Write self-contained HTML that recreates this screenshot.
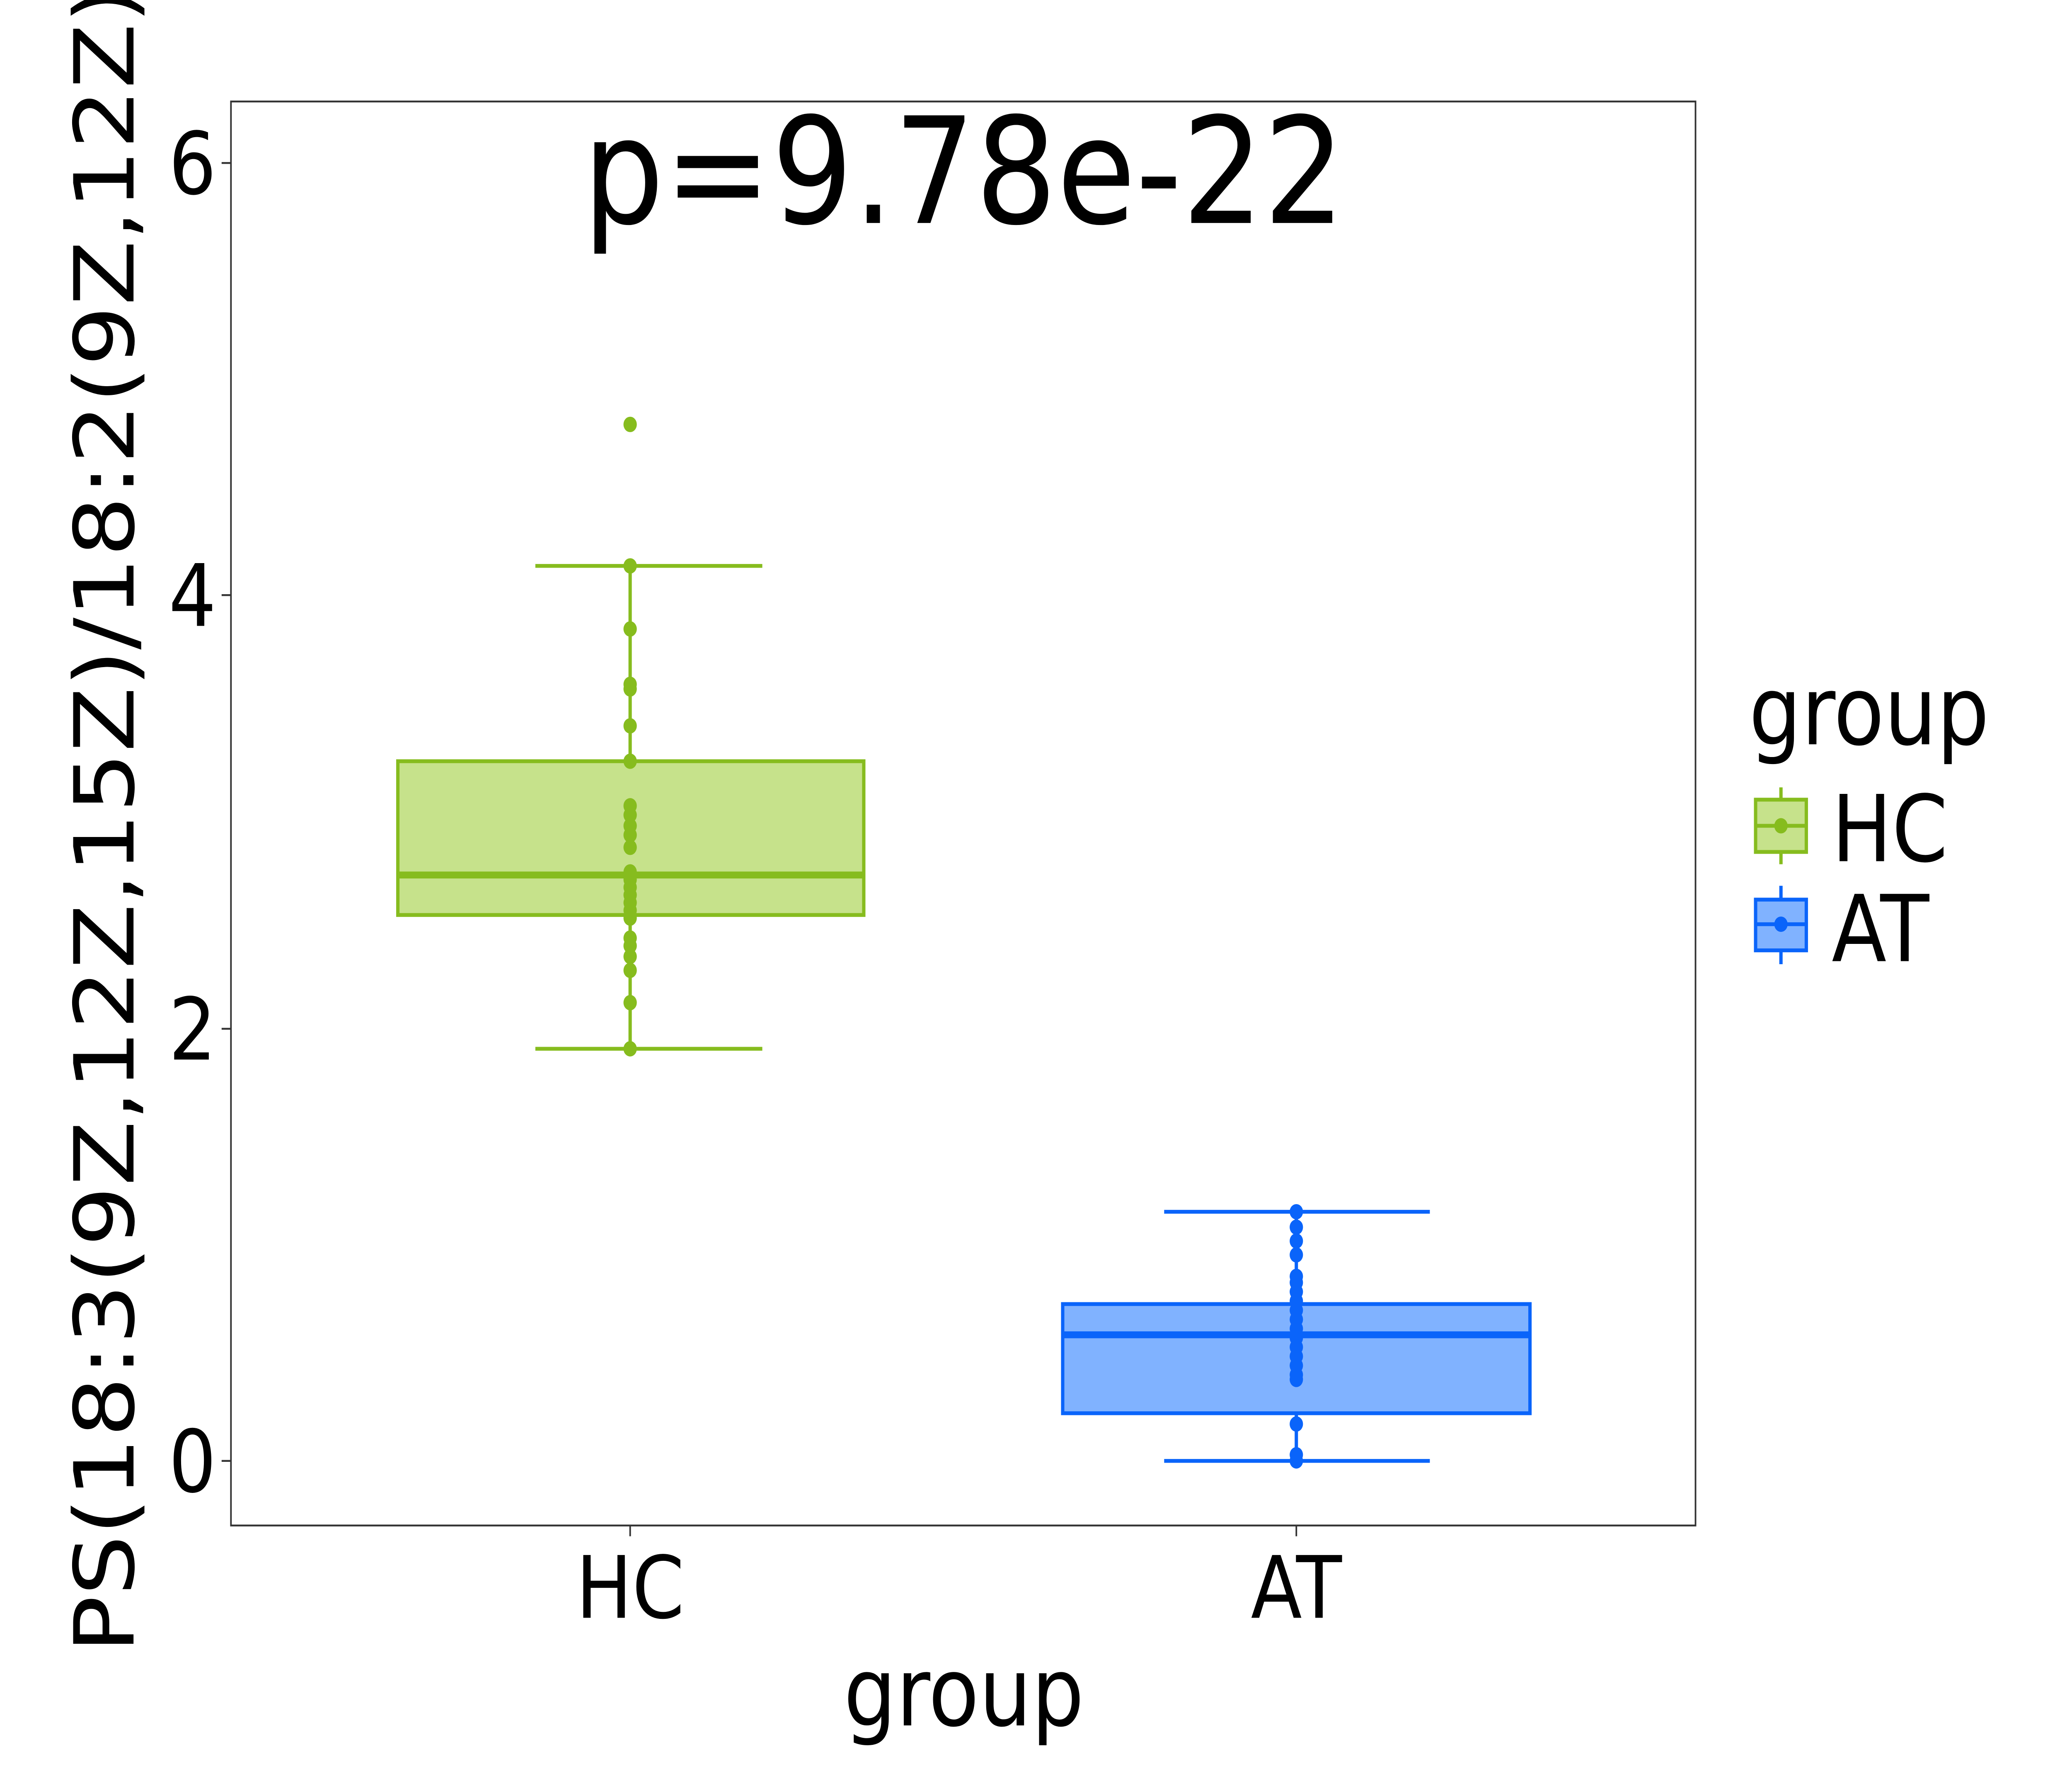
<!DOCTYPE html>
<html><head><meta charset="utf-8"><style>
html,body{margin:0;padding:0;background:#fff;overflow:hidden;width:100%;height:100%;}
svg{display:block;width:100vw;height:100vh;}
text{font-family:"DejaVu Sans","Liberation Sans",sans-serif;fill:#000;}
</style></head><body>
<svg viewBox="0 0 1552 1164" preserveAspectRatio="none" xmlns="http://www.w3.org/2000/svg">
<rect width="1552" height="1164" fill="#fff"/>
<g stroke="#86BC1E" stroke-width="2.5" fill="none">
<line x1="401" y1="368" x2="571" y2="368"/>
<line x1="401" y1="682" x2="571" y2="682"/>
<line x1="472" y1="368" x2="472" y2="682"/>
<rect x="298" y="495" width="349" height="100" fill="#C6E28B"/>
<line x1="298" y1="569" x2="647" y2="569" stroke-width="4.5"/>
</g>
<g fill="#86BC1E">
<circle cx="472" cy="276" r="5"/><circle cx="472" cy="368" r="5"/><circle cx="472" cy="409" r="5"/><circle cx="472" cy="445" r="5"/><circle cx="472" cy="448" r="5"/><circle cx="472" cy="472" r="5"/><circle cx="472" cy="495" r="5"/><circle cx="472" cy="524" r="5"/><circle cx="472" cy="530" r="5"/><circle cx="472" cy="537" r="5"/><circle cx="472" cy="543" r="5"/><circle cx="472" cy="551" r="5"/><circle cx="472" cy="567" r="5"/><circle cx="472" cy="572" r="5"/><circle cx="472" cy="577" r="5"/><circle cx="472" cy="582" r="5"/><circle cx="472" cy="587" r="5"/><circle cx="472" cy="592" r="5"/><circle cx="472" cy="597" r="5"/><circle cx="472" cy="610" r="5"/><circle cx="472" cy="615" r="5"/><circle cx="472" cy="622" r="5"/><circle cx="472" cy="631" r="5"/><circle cx="472" cy="652" r="5"/><circle cx="472" cy="682" r="5"/>
</g>
<g stroke="#0A64FA" stroke-width="2.5" fill="none">
<line x1="872" y1="788" x2="1071" y2="788"/>
<line x1="872" y1="950" x2="1071" y2="950"/>
<line x1="971" y1="788" x2="971" y2="950"/>
<rect x="796" y="848" width="350" height="71" fill="#80B2FF"/>
<line x1="796" y1="868" x2="1146" y2="868" stroke-width="4.5"/>
</g>
<g fill="#0A64FA">
<circle cx="971" cy="788" r="5"/><circle cx="971" cy="798" r="5"/><circle cx="971" cy="807" r="5"/><circle cx="971" cy="816" r="5"/><circle cx="971" cy="830" r="5"/><circle cx="971" cy="834" r="5"/><circle cx="971" cy="840" r="5"/><circle cx="971" cy="846" r="5"/><circle cx="971" cy="852" r="5"/><circle cx="971" cy="858" r="5"/><circle cx="971" cy="864" r="5"/><circle cx="971" cy="870" r="5"/><circle cx="971" cy="876" r="5"/><circle cx="971" cy="882" r="5"/><circle cx="971" cy="888" r="5"/><circle cx="971" cy="894" r="5"/><circle cx="971" cy="897" r="5"/><circle cx="971" cy="926" r="5"/><circle cx="971" cy="946" r="5"/><circle cx="971" cy="950" r="5"/>
</g>
<rect x="173" y="66" width="1097" height="926" fill="none" stroke="#333" stroke-width="1.2"/>
<g stroke="#333" stroke-width="1.2">
<line x1="166" y1="950" x2="173" y2="950"/><line x1="166" y1="669" x2="173" y2="669"/>
<line x1="166" y1="387" x2="173" y2="387"/><line x1="166" y1="106" x2="173" y2="106"/>
<line x1="472" y1="992" x2="472" y2="999"/><line x1="971" y1="992" x2="971" y2="999"/>
</g>
<g font-size="56" text-anchor="end">
<text x="162" y="970">0</text><text x="162" y="689">2</text>
<text x="162" y="407">4</text><text x="162" y="126">6</text>
</g>
<g font-size="56" text-anchor="middle">
<text x="472" y="1052">HC</text><text x="971" y="1052">AT</text>
</g>
<text x="722" y="1122" font-size="62" text-anchor="middle">group</text>
<text x="722" y="145" font-size="96" text-anchor="middle">p=9.78e-22</text>
<text transform="translate(100,1075) rotate(-90)" font-size="62">PS(18:3(9Z,12Z,15Z)/18:2(9Z,12Z))</text>
<text x="1310" y="484" font-size="62">group</text>
<g stroke="#86BC1E" stroke-width="2.5">
<line x1="1334" y1="512" x2="1334" y2="562"/>
<rect x="1315" y="520" width="38" height="34" fill="#C6E28B"/>
<line x1="1315" y1="537" x2="1353" y2="537"/>
</g>
<circle cx="1334" cy="537" r="5" fill="#86BC1E"/>
<g stroke="#0A64FA" stroke-width="2.5">
<line x1="1334" y1="576" x2="1334" y2="627"/>
<rect x="1315" y="585" width="38" height="33" fill="#80B2FF"/>
<line x1="1315" y1="601" x2="1353" y2="601"/>
</g>
<circle cx="1334" cy="601" r="5" fill="#0A64FA"/>
<text x="1372" y="560" font-size="60">HC</text>
<text x="1372" y="625" font-size="60">AT</text>
</svg>
</body></html>
